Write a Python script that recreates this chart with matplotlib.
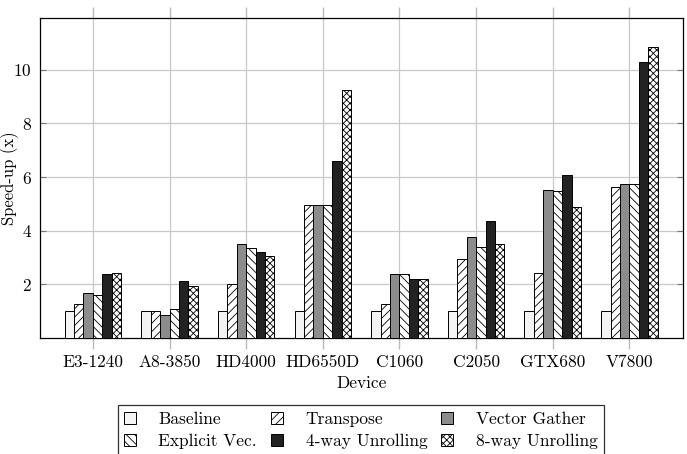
import numpy as np
import matplotlib
matplotlib.use("Agg")
import matplotlib.pyplot as plt

plt.rcParams['font.family'] = ['cmr10', 'DejaVu Serif']
plt.rcParams['mathtext.fontset'] = 'cm'
plt.rcParams['axes.formatter.use_mathtext'] = True
plt.rcParams['hatch.linewidth'] = 0.6

devices = ['E3-1240', 'A8-3850', 'HD4000', 'HD6550D', 'C1060', 'C2050', 'GTX680', 'V7800']
series = ['Baseline', 'Transpose', 'Vector Gather', 'Explicit Vec.', '4-way Unrolling', '8-way Unrolling']

baseline = [1.0, 1.0, 1.0, 1.0, 1.0, 1.0, 1.0, 1.0]
transpose = [1.27, 1.0, 2.02, 4.94, 1.27, 2.93, 2.41, 5.62]
vector_gather = [1.67, 0.85, 3.51, 4.94, 2.39, 3.76, 5.50, 5.75]
explicit_vec = [1.59, 1.09, 3.37, 4.94, 2.39, 3.40, 5.47, 5.75]
unroll4 = [2.39, 2.12, 3.19, 6.58, 2.19, 4.36, 6.09, 10.29]
unroll8 = [2.41, 1.95, 3.07, 9.25, 2.19, 3.50, 4.88, 10.83]

data = [baseline, transpose, vector_gather, explicit_vec, unroll4, unroll8]
faces = ['#f4f4f4', 'white', '#8c8c8c', 'white', '#222222', 'white']
hatches = [None, '////', None, '\\\\\\\\', None, 'xxxxx']

fig = plt.figure(figsize=(6.87, 4.54), dpi=100)
ax = fig.add_axes([0.0582, 0.2555, 0.936, 0.705])

x = np.arange(len(devices))
w = 0.123
handles = []
for i, vals in enumerate(data):
    b = ax.bar(x + (i - 2.5) * w, vals, w, color=faces[i], hatch=hatches[i],
               edgecolor='black', linewidth=0.7, label=series[i], zorder=3)
    handles.append(b)

ax.set_xlim(-0.69, 7.7)
ax.set_ylim(0, 11.93)
ax.set_xticks(x)
ax.set_xticklabels(devices, fontsize=12.5)
ax.set_yticks([2, 4, 6, 8, 10])
ax.tick_params(axis='y', direction='in', right=True, labelsize=12.5, length=4,
               color='#777777', pad=6)
ax.tick_params(axis='x', direction='out', top=True, length=8, color='#bbbbbb', width=1, pad=4)
ax.grid(True, color='#c8c8c8', linewidth=0.9, zorder=0)
ax.set_axisbelow(True)
for s in ax.spines.values():
    s.set_linewidth(0.9)

ax.set_xlabel('Device', fontsize=12.5, labelpad=4)
ax.set_ylabel('Speed-up (x)', fontsize=12)
ax.yaxis.set_label_coords(-0.033, 0.5)

order = [0, 3, 1, 4, 2, 5]
leg = fig.legend([handles[k] for k in order], [series[k] for k in order],
                 ncol=3, loc='upper center', bbox_to_anchor=(0.525, 0.126),
                 fontsize=12.5, frameon=True, fancybox=False, edgecolor='black',
                 handlelength=0.7, handleheight=0.7, columnspacing=0.8,
                 borderpad=0.35, labelspacing=0.4, handletextpad=1.3)
leg.get_frame().set_linewidth(0.9)

fig.savefig('out.png', dpi=100)
